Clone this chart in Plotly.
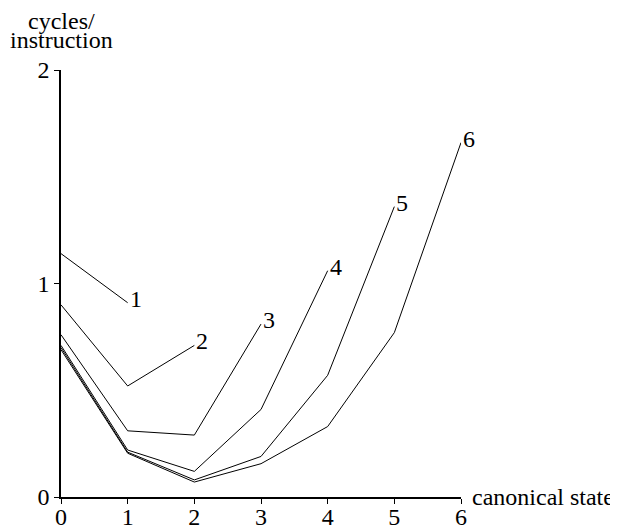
import plotly.graph_objects as go

states = [0, 1, 2, 3, 4, 5, 6]
series_labels = ["1", "2", "3", "4", "5", "6"]
s1 = [1.14, 0.91]
s2 = [0.90, 0.52, 0.71]
s3 = [0.76, 0.31, 0.29, 0.81]
s4 = [0.71, 0.22, 0.12, 0.41, 1.06]
s5 = [0.70, 0.21, 0.08, 0.19, 0.57, 1.36]
s6 = [0.69, 0.205, 0.07, 0.156, 0.33, 0.77, 1.66]
all_series = [s1, s2, s3, s4, s5, s6]

x_ticks = [0, 1, 2, 3, 4, 5, 6]
y_ticks = [0, 1, 2]

FONT = "Liberation Serif"
FS = 24

fig = go.Figure()
for lab, ys in zip(series_labels, all_series):
    xs = states[:len(ys)]
    fig.add_trace(go.Scatter(x=xs, y=ys, mode="lines",
                             line=dict(color="black", width=1),
                             cliponaxis=False, showlegend=False, name=lab))
    fig.add_annotation(x=xs[-1], y=ys[-1], text=lab, showarrow=False,
                       xanchor="left", yanchor="middle", xshift=0, yshift=4,
                       font=dict(family=FONT, size=FS, color="black"))

fig.add_annotation(x=6, y=0, text="canonical state", showarrow=False,
                   xanchor="left", yanchor="middle", xshift=9, yshift=0,
                   font=dict(family=FONT, size=FS, color="black"))
fig.add_annotation(x=0, y=2, text="cycles/", showarrow=False,
                   xanchor="center", yanchor="middle", yshift=49,
                   font=dict(family=FONT, size=FS, color="black"))
fig.add_annotation(x=0, y=2, text="instruction", showarrow=False,
                   xanchor="center", yanchor="middle", yshift=30,
                   font=dict(family=FONT, size=FS, color="black"))

axis_common = dict(showgrid=False, zeroline=False, showline=True,
                   linecolor="black", linewidth=1.5, ticks="outside",
                   ticklen=5, tickwidth=1.2, tickcolor="black",
                   automargin=False,
                   tickfont=dict(family=FONT, size=FS, color="black"))
fig.update_xaxes(range=[0, 6], tickvals=x_ticks,
                 ticktext=[str(v) for v in x_ticks],
                 ticklabelstandoff=-8, **axis_common)
fig.update_yaxes(range=[0, 2], tickvals=y_ticks,
                 ticktext=[str(v) for v in y_ticks], **axis_common)

# page body has an 8px margin; compensate so the plot area lands where the reference has it
fig.update_layout(width=610, height=519,
                  margin=dict(l=53, r=157, t=62, b=30),
                  plot_bgcolor="white", paper_bgcolor="white",
                  font=dict(family=FONT, size=FS, color="black"))

fig.write_html("out.html")
